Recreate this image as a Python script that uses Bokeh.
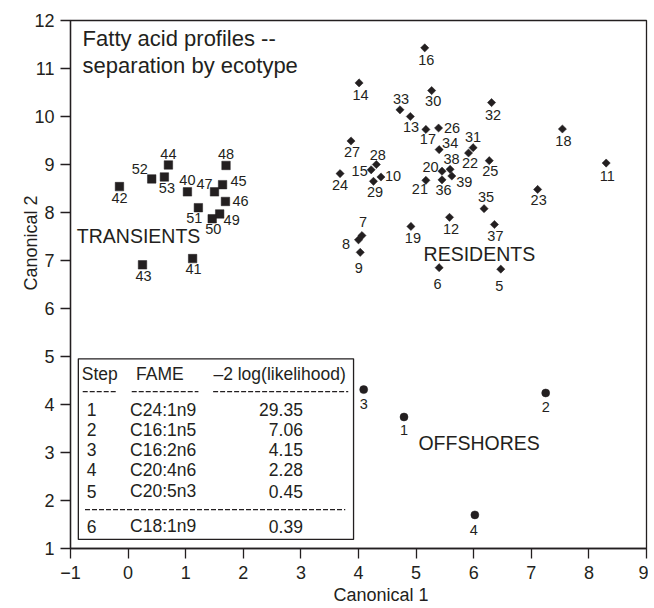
import numpy as np
from bokeh.plotting import figure
from bokeh.models import ColumnDataSource, FixedTicker, Range1d, Title
from bokeh.core.properties import value
from bokeh.embed import file_html
from bokeh.resources import INLINE

# ---------------- data ----------------
transient_ids = [40, 41, 42, 43, 44, 45, 46, 47, 48, 49, 50, 51, 52, 53]
transient_x = [1.03, 1.12, -0.15, 0.25, 0.70, 1.64, 1.69, 1.50, 1.70, 1.59, 1.46, 1.22, 0.41, 0.63]
transient_y = [8.43, 7.04, 8.54, 6.91, 8.99, 8.58, 8.23, 8.43, 8.98, 7.97, 7.87, 8.10, 8.70, 8.74]

resident_ids = [5, 6, 7, 8, 9, 10, 11, 12, 13, 14, 15, 16, 17, 18, 19, 20, 21, 22,
                23, 24, 25, 26, 27, 28, 29, 30, 31, 32, 33, 34, 35, 36, 37, 38, 39]
resident_x = [6.47, 5.40, 4.06, 4.00, 4.03, 4.39, 8.30, 5.58, 4.90, 4.01, 4.22, 5.15, 5.17, 7.54,
              4.91, 5.45, 5.17, 5.91, 7.11, 3.68, 6.27, 5.39, 3.87, 4.31, 4.26, 5.27, 5.99, 6.31,
              4.72, 5.40, 6.18, 5.45, 6.36, 5.59, 5.62]
resident_y = [6.82, 6.85, 7.52, 7.43, 7.17, 8.74, 9.03, 7.90, 10.00, 10.70, 8.89, 11.43, 9.73, 9.74,
              7.71, 8.86, 8.67, 9.24, 8.48, 8.81, 9.08, 9.76, 9.49, 9.00, 8.65, 10.54, 9.35, 10.29,
              10.14, 9.31, 8.08, 8.68, 7.75, 8.90, 8.76]

offshore_ids = [1, 2, 3, 4]
offshore_x = [4.79, 7.25, 4.09, 6.02]
offshore_y = [3.74, 4.24, 4.31, 1.70]

table_steps = ["1", "2", "3", "4", "5", "6"]
table_fame = ["C24:1n9", "C16:1n5", "C16:2n6", "C20:4n6", "C20:5n3", "C18:1n9"]
table_loglik = ["29.35", "7.06", "4.15", "2.28", "0.45", "0.39"]

x_ticks = list(range(-1, 10))
y_ticks = list(range(1, 13))

# ---------------- label placement (screen px offsets from marker, +y = down) ----------------
label_offsets = {
    # transients
    44: (0, -10.5), 48: (0, -11), 52: (-12, -9.5), 53: (2.5, 11.5), 42: (0, 11.5),
    40: (0, -12), 47: (-10, -7.5), 45: (16, -4), 46: (15, 0), 51: (-4, 10.5),
    49: (12, 6.5), 50: (1, 10), 43: (1, 11.5), 41: (1, 10.5),
    # residents
    16: (1.5, 12), 14: (1.5, 12), 30: (1.5, 10.5), 32: (1.5, 12), 33: (1, -10.5),
    13: (0.7, 10), 17: (2, 9.5), 26: (13.5, -0.5), 27: (1, 11.5), 34: (11, -6.5),
    31: (0, -10.5), 22: (1.5, 10.5), 25: (1, 10), 28: (1.5, -10), 15: (-11.5, 1.5),
    24: (0, 11), 10: (12, -1), 29: (1.5, 10.5), 20: (-11.5, -4), 38: (1.5, -10),
    39: (12.5, 6), 36: (1.5, 10.5), 21: (-6, 9), 35: (2, -11.5), 12: (1.5, 12),
    37: (1, 11.5), 19: (2, 11.5), 7: (1, -14), 8: (-12.5, 4), 9: (-1.5, 16),
    6: (-1.5, 16.5), 5: (-1.5, 16.5), 18: (1, 12), 11: (1, 12.5), 23: (1, 11),
    # offshores
    3: (0, 14.5), 1: (0, 13.5), 2: (0, 14), 4: (-1, 15),
}

INK = "#231f20"
FONT = value("Liberation Sans")

p = figure(width=648, height=608, output_backend="svg", toolbar_location=None,
           x_range=Range1d(-1, 9), y_range=Range1d(1, 12),
           min_border_left=70, min_border_right=2, min_border_top=20, min_border_bottom=60)
p.background_fill_color = "white"
p.border_fill_color = "white"
p.xgrid.visible = False
p.ygrid.visible = False
p.outline_line_color = INK
p.outline_line_width = 1.3

for ax in (p.xaxis[0], p.yaxis[0]):
    ax.axis_line_color = INK
    ax.axis_line_width = 1.3
    ax.major_tick_line_color = INK
    ax.major_tick_line_width = 1.3
    ax.major_tick_out = 10
    ax.major_tick_in = 0
    ax.minor_tick_line_color = None
    ax.major_label_text_font = "Liberation Sans"
    ax.major_label_text_font_size = "18px"
    ax.major_label_text_color = INK

p.xaxis.ticker = FixedTicker(ticks=x_ticks)
p.yaxis.ticker = FixedTicker(ticks=y_ticks)
p.xaxis.major_label_overrides = {-1: "\u22121"}
p.xaxis.major_label_standoff = 7
p.yaxis.major_label_standoff = 6

# axis titles, off-centre as in the reference
p.add_layout(Title(text="Canonical 1", align="left", offset=263, standoff=3,
                   text_font="Liberation Sans", text_font_size="18px",
                   text_font_style="normal", text_color=INK), "below")
p.add_layout(Title(text="Canonical 2", align="left", offset=258, standoff=-18,
                   text_font="Liberation Sans", text_font_size="18px",
                   text_font_style="normal", text_color=INK), "left")


def group_source(ids, xs, ys):
    return ColumnDataSource(dict(
        x=xs, y=ys, lab=[str(i) for i in ids],
        dx=[label_offsets[i][0] for i in ids],
        dy=[label_offsets[i][1] for i in ids],
    ))


src_t = group_source(transient_ids, transient_x, transient_y)
src_r = group_source(resident_ids, resident_x, resident_y)
src_o = group_source(offshore_ids, offshore_x, offshore_y)

p.scatter("x", "y", source=src_t, marker="square", size=8.5, fill_color=INK, line_color=INK, line_width=0.5)
p.scatter("x", "y", source=src_r, marker="square", size=5.8, angle=np.pi / 4,
          fill_color=INK, line_color=INK, line_width=0.5)
p.scatter("x", "y", source=src_o, marker="circle", size=8, fill_color=INK, line_color=INK, line_width=0.5)

for src in (src_t, src_r, src_o):
    p.text("x", "y", text="lab", source=src, x_offset="dx", y_offset="dy",
           text_align="center", text_baseline="middle", text_font=FONT,
           text_font_size=value("14.5px"), text_color=INK)

# group labels
p.text(x=[-0.89, 5.13, 5.04], y=[7.52, 7.14, 3.19], text=["TRANSIENTS", "RESIDENTS", "OFFSHORES"],
       text_align="left", text_baseline="middle", text_font=FONT,
       text_font_size=value("19.5px"), text_color=INK)

# title
p.text(x=[-0.79, -0.79], y=[11.62, 11.06], text=["Fatty acid profiles --", "separation by ecotype"],
       text_align="left", text_baseline="middle", text_font=FONT,
       text_font_size=value("22px"), text_color=INK)

# ---------------- table ----------------
p.quad(left=[-0.864], right=[3.914], top=[4.952], bottom=[1.19],
       fill_color="white", line_color=INK, line_width=1.3)

TFS = value("17.5px")
p.text(x=[-0.805, 0.138, 1.481], y=[4.64] * 3, text=["Step", "FAME", "\u20132 log(likelihood)"],
       text_align="left", text_baseline="middle", text_font=FONT,
       text_font_size=TFS, text_color=INK)
p.segment(x0=[-0.788, 0.063, 1.476], x1=[-0.197, 1.221, 3.822], y0=[4.27] * 3, y1=[4.27] * 3,
          line_color=INK, line_width=1.2, line_dash="5 2")
p.segment(x0=[-0.748], x1=[3.77], y0=[1.81], y1=[1.81],
          line_color=INK, line_width=1.2, line_dash="5 2")

row_y = [3.89, 3.47, 3.06, 2.64, 2.19, 1.46]
p.text(x=[-0.72] * 6, y=row_y, text=table_steps, text_align="left", text_baseline="middle",
       text_font=FONT, text_font_size=TFS, text_color=INK)
p.text(x=[0.034] * 6, y=row_y, text=table_fame, text_align="left", text_baseline="middle",
       text_font=FONT, text_font_size=TFS, text_color=INK)
p.text(x=[3.035] * 6, y=row_y, text=table_loglik, text_align="right", text_baseline="middle",
       text_font=FONT, text_font_size=TFS, text_color=INK)

open("out.html", "w").write(file_html(p, INLINE))
